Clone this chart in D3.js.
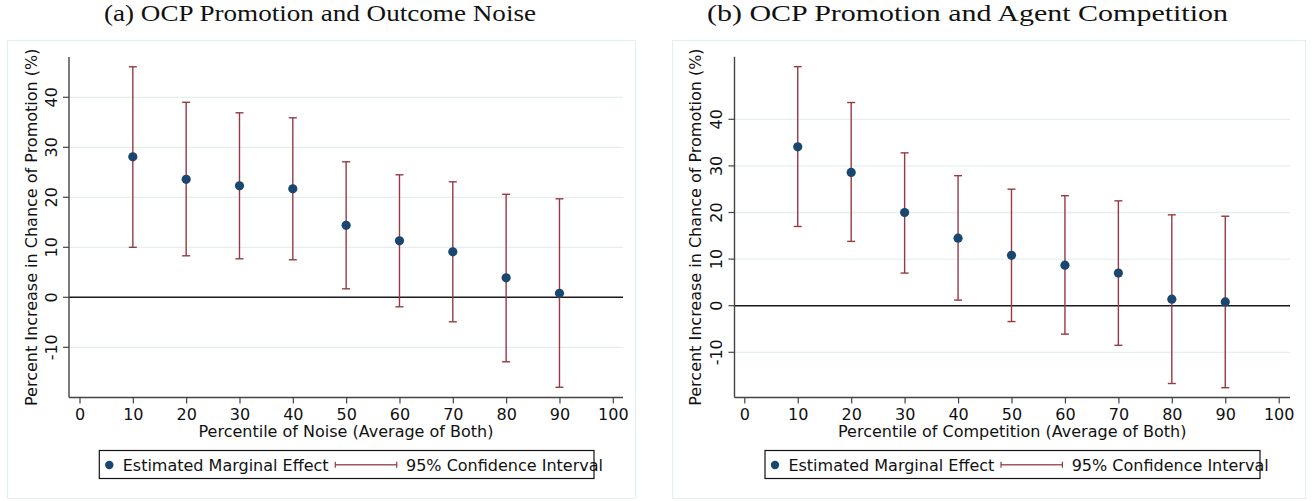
<!DOCTYPE html>
<html>
<head>
<meta charset="utf-8">
<script src="https://cdn.jsdelivr.net/npm/d3@7/dist/d3.min.js"></script>
<style>
  html, body { margin: 0; padding: 0; background: #ffffff; }
  svg { display: block; }
  text { font-family: "DejaVu Sans", sans-serif; }
</style>
</head>
<body>
<svg id="chart" width="1313" height="501"></svg>
<script>
// ---------------- DATA ----------------
const percentiles = [10, 20, 30, 40, 50, 60, 70, 80, 90];
const xTickValues = [0, 10, 20, 30, 40, 50, 60, 70, 80, 90, 100];
const yTickValues = [-10, 0, 10, 20, 30, 40];

// (a) Outcome noise
const noiseEstimate = [28.1, 23.6, 22.3, 21.7, 14.4, 11.3, 9.1, 3.9, 0.8];
const noiseLower    = [10.0, 8.3, 7.7, 7.5, 1.7, -1.9, -4.9, -12.9, -18.0];
const noiseUpper    = [46.1, 39.0, 36.9, 35.9, 27.1, 24.5, 23.1, 20.6, 19.7];

// (b) Agent competition
const compEstimate = [34.1, 28.6, 20.0, 14.5, 10.8, 8.7, 7.0, 1.4, 0.8];
const compLower    = [17.0, 13.8, 7.0, 1.2, -3.4, -6.1, -8.5, -16.7, -17.6];
const compUpper    = [51.3, 43.6, 32.8, 27.9, 25.0, 23.6, 22.5, 19.5, 19.2];

const panelTitles = ["(a) OCP Promotion and Outcome Noise", "(b) OCP Promotion and Agent Competition"];
const xAxisTitles = ["Percentile of Noise (Average of Both)", "Percentile of Competition (Average of Both)"];
const yAxisTitle = "Percent Increase in Chance of Promotion (%)";
const legendLabels = ["Estimated Marginal Effect", "95% Confidence Interval"];

// ---------------- STYLE / LAYOUT ----------------
const NAVY = "#1a476f";
const CRANBERRY = "#963a42";
const GRID = "#e6eff0";
const AXIS = "#444444";

const layouts = [
  { box: [7, 40, 635, 498], plot: { l: 69, r: 623, t: 57, b: 397.5 },
    xRange: [79.5, 612.8], yZero: 297.3, y40: 97.3, titleX: 320, titleW: 432,
    yTickBase: 56.5, yTitleBase: 36.7, legend: { l: 99.3, r: 594 } },
  { box: [672, 40, 1305, 498], plot: { l: 734.5, r: 1290, t: 56.7, b: 397.5 },
    xRange: [744.3, 1278.7], yZero: 305.7, y40: 119.3, titleX: 967.5, titleW: 521,
    yTickBase: 721.5, yTitleBase: 700.5, legend: { l: 765, r: 1260 } }
];

const panelsData = [
  { est: noiseEstimate, lo: noiseLower, hi: noiseUpper },
  { est: compEstimate, lo: compLower, hi: compUpper }
];

const svg = d3.select("#chart");

panelsData.forEach((pd, i) => {
  const L = layouts[i];
  const rows = percentiles.map((p, k) => ({ p, est: pd.est[k], lo: pd.lo[k], hi: pd.hi[k] }));

  const x = d3.scaleLinear().domain([0, 100]).range(L.xRange);
  const y = d3.scaleLinear().domain([0, 40]).range([L.yZero, L.y40]);

  const g = svg.append("g");

  // outer panel box
  g.append("rect")
    .attr("x", L.box[0] + 0.5).attr("y", L.box[1] + 0.5)
    .attr("width", L.box[2] - L.box[0]).attr("height", L.box[3] - L.box[1])
    .attr("fill", "#ffffff").attr("stroke", GRID).attr("stroke-width", 1.2);

  // title
  g.append("text")
    .attr("x", L.titleX).attr("y", 20.7)
    .attr("text-anchor", "middle")
    .style("font-family", "'Liberation Serif', 'Times New Roman', serif")
    .style("font-size", "22.5px")
    .attr("textLength", L.titleW).attr("lengthAdjust", "spacingAndGlyphs")
    .attr("fill", "#111")
    .text(panelTitles[i]);

  // gridlines (non-zero)
  g.selectAll(".grid").data(yTickValues.filter(v => v !== 0)).enter().append("line")
    .attr("x1", L.plot.l).attr("x2", L.plot.r)
    .attr("y1", d => y(d)).attr("y2", d => y(d))
    .attr("stroke", GRID).attr("stroke-width", 1.3);

  // zero reference line
  g.append("line")
    .attr("x1", L.plot.l).attr("x2", L.plot.r)
    .attr("y1", y(0)).attr("y2", y(0))
    .attr("stroke", "#1a1a1a").attr("stroke-width", 1.6);

  // y axis
  g.append("line")
    .attr("x1", L.plot.l).attr("x2", L.plot.l)
    .attr("y1", L.plot.t).attr("y2", L.plot.b)
    .attr("stroke", AXIS).attr("stroke-width", 1.4);
  g.selectAll(".ytick").data(yTickValues).enter().append("line")
    .attr("x1", L.plot.l - 6).attr("x2", L.plot.l)
    .attr("y1", d => y(d)).attr("y2", d => y(d))
    .attr("stroke", AXIS).attr("stroke-width", 1.2);
  g.selectAll(".ylab").data(yTickValues).enter().append("text")
    .attr("transform", d => `translate(${L.yTickBase},${y(d)}) rotate(-90)`)
    .attr("text-anchor", "middle")
    .style("font-size", "16px").attr("fill", "#111")
    .text(d => d);

  // y axis title
  g.append("text")
    .attr("transform", `translate(${L.yTitleBase},${(L.plot.t + L.plot.b) / 2}) rotate(-90)`)
    .attr("text-anchor", "middle")
    .style("font-size", "16px").attr("fill", "#111")
    .text(yAxisTitle);

  // x axis
  const xAxis = d3.axisBottom(x).tickValues(xTickValues).tickSize(6).tickPadding(5.1).tickSizeOuter(0);
  const xg = g.append("g").attr("transform", `translate(0,${L.plot.b})`).call(xAxis);
  xg.select(".domain").remove();
  xg.selectAll(".tick line").attr("stroke", AXIS).attr("stroke-width", 1.2);
  xg.selectAll(".tick text").style("font-size", "16px")
    .style("font-family", "'DejaVu Sans', sans-serif").attr("fill", "#111");
  g.append("line")
    .attr("x1", L.plot.l).attr("x2", L.plot.r)
    .attr("y1", L.plot.b).attr("y2", L.plot.b)
    .attr("stroke", AXIS).attr("stroke-width", 1.4);

  // x axis title
  g.append("text")
    .attr("x", (L.plot.l + L.plot.r) / 2).attr("y", 436.7)
    .attr("text-anchor", "middle")
    .style("font-size", "16px").attr("fill", "#111")
    .text(xAxisTitles[i]);

  // confidence intervals
  const cap = 4;
  const ci = g.selectAll(".ci").data(rows).enter().append("g");
  ci.append("line")
    .attr("x1", d => x(d.p)).attr("x2", d => x(d.p))
    .attr("y1", d => y(d.lo)).attr("y2", d => y(d.hi))
    .attr("stroke", CRANBERRY).attr("stroke-width", 1.4);
  ci.append("line")
    .attr("x1", d => x(d.p) - cap).attr("x2", d => x(d.p) + cap)
    .attr("y1", d => y(d.lo)).attr("y2", d => y(d.lo))
    .attr("stroke", CRANBERRY).attr("stroke-width", 1.4);
  ci.append("line")
    .attr("x1", d => x(d.p) - cap).attr("x2", d => x(d.p) + cap)
    .attr("y1", d => y(d.hi)).attr("y2", d => y(d.hi))
    .attr("stroke", CRANBERRY).attr("stroke-width", 1.4);

  // point estimates
  g.selectAll(".pt").data(rows).enter().append("circle")
    .attr("cx", d => x(d.p)).attr("cy", d => y(d.est))
    .attr("r", 4.6).attr("fill", NAVY);

  // legend
  const lg = L.legend;
  g.append("rect")
    .attr("x", lg.l).attr("y", 450.5)
    .attr("width", lg.r - lg.l).attr("height", 28)
    .attr("fill", "#ffffff").attr("stroke", "#111").attr("stroke-width", 1.2);
  g.append("circle").attr("cx", lg.l + 10).attr("cy", 465).attr("r", 4.2).attr("fill", NAVY);
  g.append("text").attr("x", lg.l + 23.4).attr("y", 471)
    .style("font-size", "16px").attr("fill", "#111").text(legendLabels[0]);
  const c0 = lg.l + 236, c1 = lg.l + 297.4, cy = 464.7;
  g.append("line").attr("x1", c0).attr("x2", c1).attr("y1", cy).attr("y2", cy)
    .attr("stroke", CRANBERRY).attr("stroke-width", 1.4).attr("opacity", 0.85);
  [c0, c1].forEach(cx => g.append("line")
    .attr("x1", cx).attr("x2", cx).attr("y1", cy - 3).attr("y2", cy + 3)
    .attr("stroke", CRANBERRY).attr("stroke-width", 1.2));
  g.append("text").attr("x", lg.l + 306.7).attr("y", 471)
    .style("font-size", "16px").attr("fill", "#111").text(legendLabels[1]);
});
</script>
</body>
</html>
